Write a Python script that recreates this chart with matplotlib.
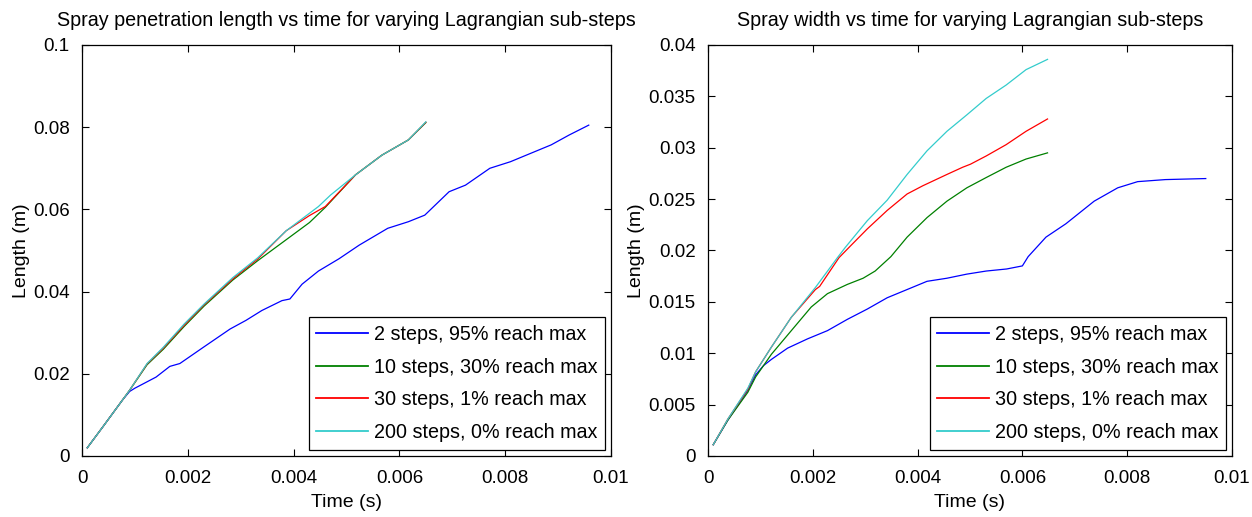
import numpy as np
import matplotlib
matplotlib.use('Agg')
import matplotlib.pyplot as plt
from matplotlib.ticker import FixedLocator, FuncFormatter

plt.rcParams['font.family'] = ['Liberation Sans', 'DejaVu Sans']
plt.rcParams['font.size'] = 14

labels = ['2 steps, 95% reach max', '10 steps, 30% reach max',
          '30 steps, 1% reach max', '200 steps, 0% reach max']
colors = ['#0000ff', '#008000', '#ff0000', '#33cccc']

# penetration length (left)
t_pen_2 = [0.0001, 0.0004, 0.00077, 0.0009, 0.001, 0.0014, 0.00166, 0.00185, 0.0023, 0.0028,
           0.0031, 0.0034, 0.00378, 0.00393, 0.00416, 0.00447, 0.00486, 0.00524, 0.00578,
           0.00617, 0.00648, 0.00694, 0.00725, 0.00771, 0.0081, 0.0084, 0.00887, 0.00921, 0.00958]
L_pen_2 = [0.002, 0.0072, 0.0137, 0.0157, 0.0165, 0.0192, 0.0218, 0.0225, 0.0265, 0.0309,
           0.033, 0.0354, 0.0378, 0.0382, 0.0418, 0.045, 0.048, 0.0513, 0.0554,
           0.057, 0.0586, 0.0643, 0.0659, 0.07, 0.0716, 0.0732, 0.0757, 0.0781, 0.0805]
t_pen_10 = [0.0001, 0.0004, 0.00077, 0.0009, 0.00123, 0.00154, 0.00193, 0.00231, 0.00285, 0.00332,
            0.0039, 0.0043, 0.0046, 0.00517, 0.00567, 0.00617, 0.0065]
L_pen_10 = [0.002, 0.0072, 0.0137, 0.016, 0.0222, 0.026, 0.0315, 0.0365, 0.0428, 0.0475,
            0.053, 0.0568, 0.0605, 0.0684, 0.0732, 0.0769, 0.0811]
t_pen_30 = [0.0001, 0.0004, 0.00077, 0.0009, 0.00123, 0.00154, 0.00193, 0.00231, 0.00285, 0.00332,
            0.00386, 0.0043, 0.0046, 0.00517, 0.00567, 0.00617, 0.0065]
L_pen_30 = [0.002, 0.0072, 0.0137, 0.016, 0.0224, 0.0263, 0.0318, 0.0368, 0.0431, 0.0479,
            0.0548, 0.0585, 0.0607, 0.0684, 0.0732, 0.0769, 0.0812]
t_pen_200 = [0.0001, 0.0004, 0.00077, 0.0009, 0.00123, 0.00154, 0.00193, 0.00231, 0.00285, 0.00332,
             0.00386, 0.00447, 0.0047, 0.00517, 0.00567, 0.00617, 0.0065]
L_pen_200 = [0.002, 0.0072, 0.0137, 0.016, 0.0225, 0.0265, 0.0321, 0.037, 0.0434, 0.0482,
             0.0548, 0.0607, 0.0635, 0.0684, 0.0732, 0.0769, 0.0813]

# spray width (right)
t_wid_2 = [0.0001, 0.00038, 0.00076, 0.00091, 0.00106, 0.00121, 0.00152, 0.0019, 0.00228, 0.00266,
           0.00304, 0.00342, 0.0038, 0.00418, 0.00456, 0.00494, 0.00531, 0.0057, 0.006, 0.00611,
           0.00645, 0.00683, 0.00737, 0.00782, 0.0082, 0.00873, 0.0095]
W_wid_2 = [0.0011, 0.0035, 0.0064, 0.0079, 0.0088, 0.0094, 0.0105, 0.0114, 0.0122, 0.0133,
           0.0143, 0.0154, 0.0162, 0.017, 0.0173, 0.0177, 0.018, 0.0182, 0.0185, 0.0194,
           0.0213, 0.0226, 0.0248, 0.0261, 0.0267, 0.0269, 0.027]
t_wid_10 = [0.0001, 0.00038, 0.00076, 0.00091, 0.00121, 0.00159, 0.00197, 0.00228, 0.00266, 0.00296,
            0.00319, 0.00349, 0.0038, 0.00418, 0.00456, 0.00494, 0.00531, 0.00569, 0.00607, 0.00648]
W_wid_10 = [0.0011, 0.0035, 0.0062, 0.0077, 0.0099, 0.0122, 0.0145, 0.0158, 0.0167, 0.0173,
            0.018, 0.0194, 0.0213, 0.0232, 0.0248, 0.0261, 0.0271, 0.0281, 0.0289, 0.0295]
t_wid_30 = [0.0001, 0.00038, 0.00076, 0.00091, 0.00121, 0.00159, 0.00205, 0.00213, 0.0025, 0.00273,
            0.00304, 0.00342, 0.0038, 0.0041, 0.00456, 0.00486, 0.00501, 0.00531, 0.00569, 0.00607, 0.00648]
W_wid_30 = [0.0011, 0.0036, 0.0065, 0.0082, 0.0106, 0.0135, 0.0162, 0.0165, 0.0193, 0.0205,
            0.0221, 0.0239, 0.0255, 0.0263, 0.0274, 0.0281, 0.0284, 0.0292, 0.0303, 0.0316, 0.0328]
t_wid_200 = [0.0001, 0.00038, 0.00076, 0.00091, 0.00121, 0.00159, 0.00205, 0.00247, 0.00262, 0.00304,
             0.00342, 0.0038, 0.00418, 0.00456, 0.00494, 0.00531, 0.00569, 0.00607, 0.00648]
W_wid_200 = [0.0011, 0.0036, 0.0066, 0.0082, 0.0106, 0.0135, 0.0164, 0.0193, 0.0203, 0.0229,
             0.0249, 0.0274, 0.0297, 0.0316, 0.0332, 0.0348, 0.0361, 0.0376, 0.0386]

x_ticks = [0, 0.002, 0.004, 0.006, 0.008, 0.01]
y_ticks_pen = [0, 0.02, 0.04, 0.06, 0.08, 0.1]
y_ticks_wid = [0, 0.005, 0.01, 0.015, 0.02, 0.025, 0.03, 0.035, 0.04]

fig = plt.figure(figsize=(12.52, 5.17), dpi=100)
ax1 = fig.add_axes([0.0655, 0.118, 0.4225, 0.795])
ax2 = fig.add_axes([0.5655, 0.118, 0.4185, 0.795])

fmt = FuncFormatter(lambda v, p: '%g' % round(v, 6))

pen = [(t_pen_2, L_pen_2), (t_pen_10, L_pen_10), (t_pen_30, L_pen_30), (t_pen_200, L_pen_200)]
wid = [(t_wid_2, W_wid_2), (t_wid_10, W_wid_10), (t_wid_30, W_wid_30), (t_wid_200, W_wid_200)]

for ax, data, yt, title in [(ax1, pen, y_ticks_pen, 'Spray penetration length vs time for varying Lagrangian sub-steps'),
                            (ax2, wid, y_ticks_wid, 'Spray width vs time for varying Lagrangian sub-steps')]:
    for (t, v), c, lab in zip(data, colors, labels):
        ax.plot(t, v, color=c, lw=0.9, label=lab)
    ax.set_xlim(0, 0.01)
    ax.set_ylim(yt[0], yt[-1])
    ax.xaxis.set_major_locator(FixedLocator(x_ticks))
    ax.yaxis.set_major_locator(FixedLocator(yt))
    ax.xaxis.set_major_formatter(fmt)
    ax.yaxis.set_major_formatter(fmt)
    ax.tick_params(direction='in', top=True, right=True, length=5, width=0.8,
                   labelsize=13.5)
    ax.tick_params(axis='x', pad=10)
    ax.tick_params(axis='y', pad=9)
    for s in ax.spines.values():
        s.set_linewidth(0.9)
    ax.set_title(title, fontsize=14.2, pad=14)
    ax.set_xlabel('Time (s)', labelpad=5)
    ax.set_ylabel('Length (m)', labelpad=2)
    leg = ax.legend(loc='lower right', fancybox=False, edgecolor='black', framealpha=1,
                    borderaxespad=0.3, handlelength=2.6, labelspacing=0.7, handletextpad=0.3,
                    borderpad=0.4, fontsize=14.2)
    leg.get_frame().set_linewidth(0.9)
    for ln in leg.get_lines():
        ln.set_linewidth(1.3)

fig.savefig('out.png', dpi=100)
